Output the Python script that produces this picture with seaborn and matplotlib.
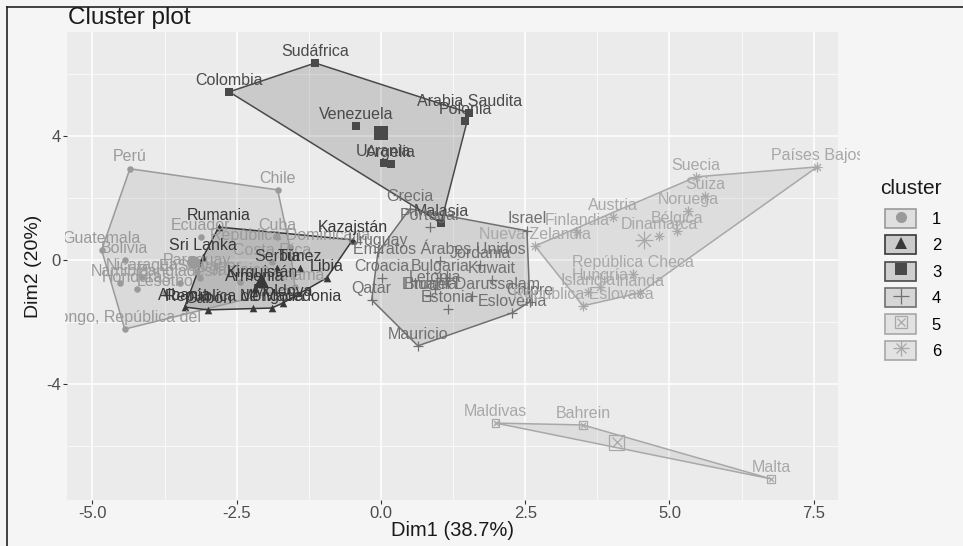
import numpy as np
import pandas as pd
import matplotlib
matplotlib.use('Agg')
import matplotlib.pyplot as plt
from matplotlib.lines import Line2D
from matplotlib.patches import Patch
from matplotlib.legend_handler import HandlerTuple
from matplotlib.colors import to_rgb
from matplotlib.transforms import Bbox, TransformedBbox
import seaborn as sns

# cluster 1
c1_names = ['Perú', 'Chile', 'Guatemala', 'Bolivia', 'Ecuador', 'Cuba', 'República Dominicana',
            'Costa Rica', 'Jamaica', 'Panamá', 'Paraguay', 'El Salvador', 'Nicaragua', 'Namibia',
            'Honduras', 'Lesotho', 'Bangladesh', 'Congo, República del']
c1_dim1 = [-4.35, -1.79, -4.84, -4.44, -3.12, -1.80, -1.58, -1.89, -2.44, -1.49, -3.19, -3.14,
           -4.14, -4.52, -4.23, -3.74, -3.48, -4.44]
c1_dim2 = [2.94, 2.26, 0.32, 0.0, 0.74, 0.74, 0.42, -0.06, -0.71, -0.87, -0.39, -0.58,
           -0.55, -0.74, -0.94, -1.06, -0.74, -2.23]

# cluster 2
c2_names = ['Rumania', 'Sri Lanka', 'Kazajstán', 'Serbia', 'Túnez', 'Libia', 'Armenia',
            'Kirguistán', 'Moldova', 'Mongolia', 'República de Macedonia', 'Gabón', 'Albania']
c2_dim1 = [-2.81, -3.08, -0.49, -1.80, -1.40, -0.94, -2.18, -2.06, -1.70, -1.89, -2.22, -3.00, -3.40]
c2_dim2 = [1.06, 0.10, 0.65, -0.26, -0.26, -0.58, -0.90, -0.77, -1.39, -1.55, -1.55, -1.61, -1.52]

# cluster 3
c3_names = ['Sudáfrica', 'Colombia', 'Venezuela', 'Arabia Saudita', 'Polonia', 'Ucrania',
            'Argelia', 'Malasia']
c3_dim1 = [-1.14, -2.63, -0.43, 1.53, 1.46, 0.05, 0.17, 1.04]
c3_dim2 = [6.35, 5.42, 4.32, 4.74, 4.48, 3.13, 3.10, 1.19]

# cluster 4
c4_names = ['Grecia', 'Portugal', 'Israel', 'Uruguay', 'Emiratos Árabes Unidos', 'Croacia',
            'Qatar', 'Bulgaria', 'Jordania', 'Kuwait', 'Letonia', 'Lituania', 'Brunei Darussalam',
            'Estonia', 'Eslovenia', 'Chipre', 'Mauricio']
c4_dim1 = [0.50, 0.85, 2.53, -0.05, 1.02, 0.02, -0.16, 1.02, 1.72, 1.92, 0.94, 0.85, 1.58,
           1.16, 2.27, 2.58, 0.64]
c4_dim2 = [1.65, 1.06, 0.94, 0.26, -0.03, -0.58, -1.29, -0.58, -0.16, -0.65, -0.94, -1.16, -1.16,
           -1.58, -1.71, -1.35, -2.77]

# cluster 5
c5_names = ['Maldivas', 'Bahrein', 'Malta']
c5_dim1 = [1.99, 3.50, 6.76]
c5_dim2 = [-5.26, -5.32, -7.06]

# cluster 6
c6_names = ['Países Bajos', 'Suecia', 'Suiza', 'Noruega', 'Bélgica', 'Dinamarca', 'Austria',
            'Finlandia', 'Nueva Zelandia', 'República Checa', 'Hungría', 'Islandia', 'Irlanda',
            'República Eslovaca']
c6_dim1 = [7.56, 5.46, 5.62, 5.32, 5.13, 4.82, 4.02, 3.40, 2.67, 4.37, 3.80, 3.59, 4.49, 3.50]
c6_dim2 = [3.00, 2.68, 2.06, 1.58, 0.94, 0.77, 1.39, 0.90, 0.45, -0.45, -0.87, -1.03, -1.06, -1.48]

frames = []
for k, (n, x, y) in enumerate([(c1_names, c1_dim1, c1_dim2), (c2_names, c2_dim1, c2_dim2),
                               (c3_names, c3_dim1, c3_dim2), (c4_names, c4_dim1, c4_dim2),
                               (c5_names, c5_dim1, c5_dim2), (c6_names, c6_dim1, c6_dim2)], start=1):
    frames.append(pd.DataFrame({'name': n, 'Dim1': x, 'Dim2': y, 'cluster': k}))
df = pd.concat(frames, ignore_index=True)

colors = {1: '#9a9a9a', 2: '#383838', 3: '#4a4a4a', 4: '#707070', 5: '#a8a8a8', 6: '#a8a8a8'}
panel_bg = '#ebebeb'


def hull(points):
    pts = sorted(set(points))

    def cross(o, a, b):
        return (a[0] - o[0]) * (b[1] - o[1]) - (a[1] - o[1]) * (b[0] - o[0])
    lower, upper = [], []
    for p in pts:
        while len(lower) >= 2 and cross(lower[-2], lower[-1], p) <= 0:
            lower.pop()
        lower.append(p)
    for p in reversed(pts):
        while len(upper) >= 2 and cross(upper[-2], upper[-1], p) <= 0:
            upper.pop()
        upper.append(p)
    return lower[:-1] + upper[:-1]


def blend(c, a=0.2, bg=panel_bg):
    c, b = np.array(to_rgb(c)), np.array(to_rgb(bg))
    return tuple(a * c + (1 - a) * b)


plt.rcParams['font.family'] = ['Liberation Sans', 'DejaVu Sans']
plt.rcParams['axes.unicode_minus'] = False
fig = plt.figure(figsize=(9.63, 5.46), dpi=100, facecolor='#f6f5f5')
ax = fig.add_axes([67 / 963, 46 / 546, (838 - 67) / 963, (500 - 32) / 546])
ax.set_facecolor(panel_bg)

ax.set_xticks([-5.0, -2.5, 0.0, 2.5, 5.0, 7.5])
ax.set_xticklabels(['-5.0', '-2.5', '0.0', '2.5', '5.0', '7.5'])
ax.set_yticks([-4, 0, 4])
ax.set_yticklabels(['-4', '0', '4'])
ax.set_xticks([-3.75, -1.25, 1.25, 3.75, 6.25], minor=True)
ax.set_yticks([-6, -2, 2, 6], minor=True)
ax.grid(which='major', color='white', lw=1.1)
ax.grid(which='minor', color='white', lw=0.5)
ax.set_axisbelow(True)
for s in ax.spines.values():
    s.set_visible(False)
ax.tick_params(which='major', length=3, pad=1.5, color='#333333', labelcolor='#4d4d4d', labelsize=12)
ax.tick_params(which='minor', length=0)

# hulls
for k in range(1, 7):
    sub = df[df.cluster == k]
    h = hull(list(zip(sub.Dim1, sub.Dim2)))
    hx = [p[0] for p in h] + [h[0][0]]
    hy = [p[1] for p in h] + [h[0][1]]
    ax.fill(hx, hy, facecolor=colors[k], alpha=0.2, edgecolor='none', zorder=1)
    ax.plot(hx, hy, color=colors[k], lw=1.1, zorder=2)

# points
markers = {1: 'o', 2: '^', 3: 's', 4: '+', 5: 's', 6: '+'}
sizes = {1: 22, 2: 30, 3: 28, 4: 45, 5: 28, 6: 45}
cent = df.groupby('cluster')[['Dim1', 'Dim2']].mean().reset_index()
for k in range(1, 7):
    sub = df[df.cluster == k]
    c = cent[cent.cluster == k]
    col = colors[k]
    if k in (1, 2, 3):
        sns.scatterplot(data=sub, x='Dim1', y='Dim2', color=col, marker=markers[k], s=sizes[k],
                        linewidth=0, ax=ax, legend=False, zorder=3)
        sns.scatterplot(data=c, x='Dim1', y='Dim2', color=col, marker=markers[k], s=sizes[k] * 4,
                        linewidth=0, ax=ax, legend=False, zorder=3)
    elif k == 4:
        for d, sc in ((sub, 1), (c, 3)):
            sns.scatterplot(data=d, x='Dim1', y='Dim2', color=col, marker='+', s=sizes[k] * sc,
                            linewidth=0.9, ax=ax, legend=False, zorder=3)
    elif k == 5:
        for d, sc in ((sub, 1), (c, 4)):
            sns.scatterplot(data=d, x='Dim1', y='Dim2', marker='s', s=sizes[k] * sc,
                            facecolor='none', edgecolor=col, linewidth=0.9, ax=ax, legend=False, zorder=3)
            sns.scatterplot(data=d, x='Dim1', y='Dim2', color=col, marker='x', s=sizes[k] * sc * 0.45,
                            linewidth=0.9, ax=ax, legend=False, zorder=3)
    else:
        for d, sc in ((sub, 1), (c, 3.5)):
            sns.scatterplot(data=d, x='Dim1', y='Dim2', color=col, marker='+', s=sizes[k] * sc,
                            linewidth=0.9, ax=ax, legend=False, zorder=3)
            sns.scatterplot(data=d, x='Dim1', y='Dim2', color=col, marker='x', s=sizes[k] * sc * 0.55,
                            linewidth=0.9, ax=ax, legend=False, zorder=3)

ax.set_xlim(-5.44, 7.92)
ax.set_ylim(-7.74, 7.35)

# labels, clipped a little outside the panel as in the original
clip = TransformedBbox(Bbox([[65 / 963, 0], [860 / 963, 1]]), fig.transFigure)
for _, r in df.iterrows():
    t = ax.annotate(r['name'], (r.Dim1, r.Dim2), xytext=(0, 8.5), textcoords='offset points',
                    ha='center', va='center', color=colors[r.cluster], fontsize=11.5, zorder=4,
                    annotation_clip=False)
    t.set_clip_box(clip)
    t.set_clip_on(True)

ax.set_xlabel('Dim1 (38.7%)', fontsize=14.5, color='#1a1a1a', labelpad=0)
ax.set_ylabel('Dim2 (20%)', fontsize=14, color='#1a1a1a', labelpad=3)
fig.text(68 / 963, 1 - 18 / 546, 'Cluster plot', fontsize=17.5, ha='left', va='center', color='#1a1a1a')

# legend
handles = []
for k in range(1, 7):
    col = colors[k]
    box = Patch(facecolor=blend(col, 0.2, '#f0f0f0'), edgecolor=col, lw=1.2)
    if k in (1, 2, 3):
        parts = [box, Line2D([], [], ls='', marker=markers[k], color=col, ms=8, mew=0)]
    elif k == 4:
        parts = [box, Line2D([], [], ls='', marker='+', color=col, ms=11, mew=0.9)]
    elif k == 5:
        parts = [box, Line2D([], [], ls='', marker='s', mfc='none', mec=col, ms=9, mew=0.9),
                 Line2D([], [], ls='', marker='x', color=col, ms=5.5, mew=0.9)]
    else:
        parts = [box, Line2D([], [], ls='', marker='+', color=col, ms=11, mew=0.9),
                 Line2D([], [], ls='', marker='x', color=col, ms=7.5, mew=0.9)]
    handles.append(tuple(parts))
fig.text(880 / 963, 1 - 188 / 546, 'cluster', fontsize=15, ha='left', va='center', color='#1a1a1a')
leg = fig.legend(handles, [str(k) for k in range(1, 7)],
                 handler_map={tuple: HandlerTuple(ndivide=1, pad=0)},
                 loc='upper left', bbox_to_anchor=(870 / 963, 1 - 194 / 546),
                 frameon=False, handlelength=1.86, handleheight=1.38, labelspacing=0.44,
                 handletextpad=0.95, fontsize=12)

# image frame
fig.add_artist(Line2D([7 / 963, 7 / 963], [0, 1 - 7 / 546], color='#222222', lw=1.2))
fig.add_artist(Line2D([7 / 963, 1], [1 - 7 / 546, 1 - 7 / 546], color='#222222', lw=1.2))

fig.savefig('out.png', dpi=100, facecolor=fig.get_facecolor())
